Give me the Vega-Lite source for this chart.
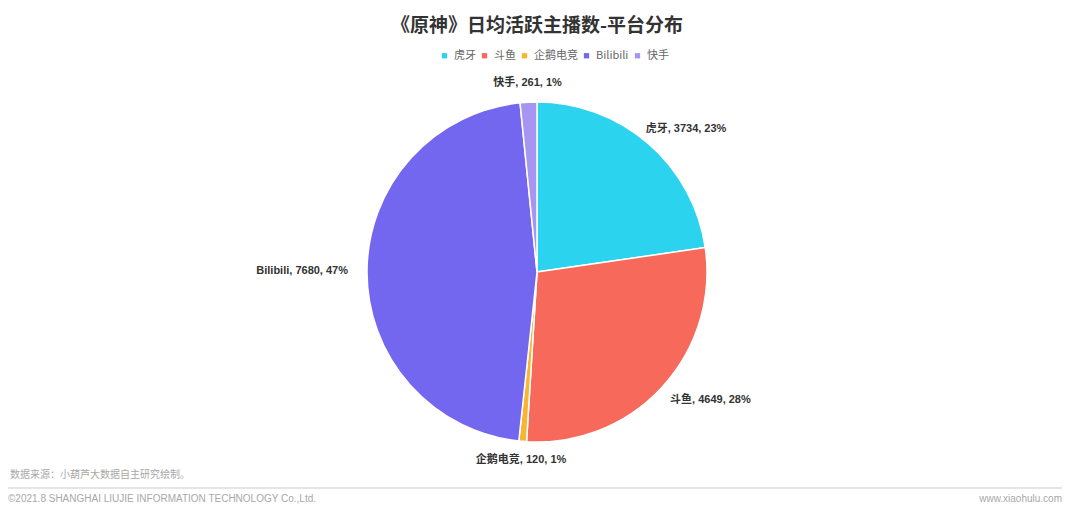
{
  "$schema": "https://vega.github.io/schema/vega-lite/v6.json",
  "autosize": {"type": "none"},
  "width": 1074,
  "height": 344,
  "padding": {"top": 100, "left": 0, "right": 6, "bottom": 66},
  "background": "white",
  "config": {
    "view": {"stroke": null},
    "font": "Liberation Sans, Noto Sans CJK SC"
  },
  "title": {
    "text": "《原神》日均活跃主播数-平台分布",
    "anchor": "middle",
    "frame": "group",
    "fontSize": 19,
    "fontWeight": "bold",
    "color": "#333333",
    "font": "Noto Sans CJK SC",
    "offset": 14
  },
  "data": {
    "values": [
      {"platform": "虎牙", "value": 3734, "rank": 1, "label": "虎牙, 3734, 23%"},
      {"platform": "斗鱼", "value": 4649, "rank": 2, "label": "斗鱼, 4649, 28%"},
      {"platform": "企鹅电竞", "value": 120, "rank": 3, "label": "企鹅电竞, 120, 1%"},
      {"platform": "Bilibili", "value": 7680, "rank": 4, "label": "Bilibili, 7680, 47%"},
      {"platform": "快手", "value": 261, "rank": 5, "label": "快手, 261, 1%"}
    ]
  },
  "layer": [
    {
      "mark": {"type": "arc", "outerRadius": 170, "stroke": "white", "strokeWidth": 1.5},
      "encoding": {
        "theta": {"field": "value", "type": "quantitative", "stack": true},
        "order": {"field": "rank", "type": "quantitative"},
        "color": {
          "field": "platform",
          "type": "nominal",
          "scale": {
            "domain": ["虎牙", "斗鱼", "企鹅电竞", "Bilibili", "快手"],
            "range": ["#2bd3ee", "#f7695a", "#f8b532", "#7367f0", "#a795f2"]
          },
          "legend": {
            "title": null,
            "orient": "none",
            "direction": "horizontal",
            "legendX": 439,
            "legendY": -50,
            "symbolType": "square",
            "symbolSize": 28,
            "symbolStrokeWidth": 0,
            "labelFontSize": 11,
            "labelColor": "#666666",
            "labelFont": "Noto Sans CJK SC",
            "columnPadding": 3,
            "labelOffset": 4
          }
        }
      }
    },
    {
      "mark": {
        "type": "text",
        "radius": 189,
        "fontSize": 11,
        "fontWeight": "bold",
        "color": "#333333",
        "baseline": "middle",
        "dx": {"expr": "datum.platform == '虎牙' ? -15 : (datum.platform == '斗鱼' ? -6 : 0)"},
        "align": {"expr": "datum.platform == 'Bilibili' ? 'right' : ((datum.platform == '虎牙' || datum.platform == '斗鱼') ? 'left' : 'center')"}
      },
      "encoding": {
        "theta": {"field": "value", "type": "quantitative", "stack": true},
        "order": {"field": "rank", "type": "quantitative"},
        "text": {"field": "label", "type": "nominal"}
      }
    },
    {
      "data": {"values": [{"t": "数据来源：小葫芦大数据自主研究绘制。"}]},
      "mark": {"type": "text", "x": 10, "y": 375, "align": "left", "baseline": "middle", "fontSize": 10, "color": "#a8a8a8", "font": "Noto Sans CJK SC"},
      "encoding": {"text": {"field": "t", "type": "nominal"}}
    },
    {
      "data": {"values": [{"t": "©2021.8 SHANGHAI LIUJIE INFORMATION  TECHNOLOGY Co.,Ltd."}]},
      "mark": {"type": "text", "x": 8, "y": 399, "align": "left", "baseline": "middle", "fontSize": 10, "color": "#a8a8a8"},
      "encoding": {"text": {"field": "t", "type": "nominal"}}
    },
    {
      "data": {"values": [{"t": "www.xiaohulu.com"}]},
      "mark": {"type": "text", "x": 1062, "y": 399, "align": "right", "baseline": "middle", "fontSize": 10, "color": "#a8a8a8"},
      "encoding": {"text": {"field": "t", "type": "nominal"}}
    },
    {
      "data": {"values": [{"k": 1}]},
      "mark": {"type": "rule", "stroke": "#cccccc", "strokeWidth": 1},
      "encoding": {
        "x": {"value": 8},
        "x2": {"value": 1062},
        "y": {"value": 388}
      }
    }
  ]
}
